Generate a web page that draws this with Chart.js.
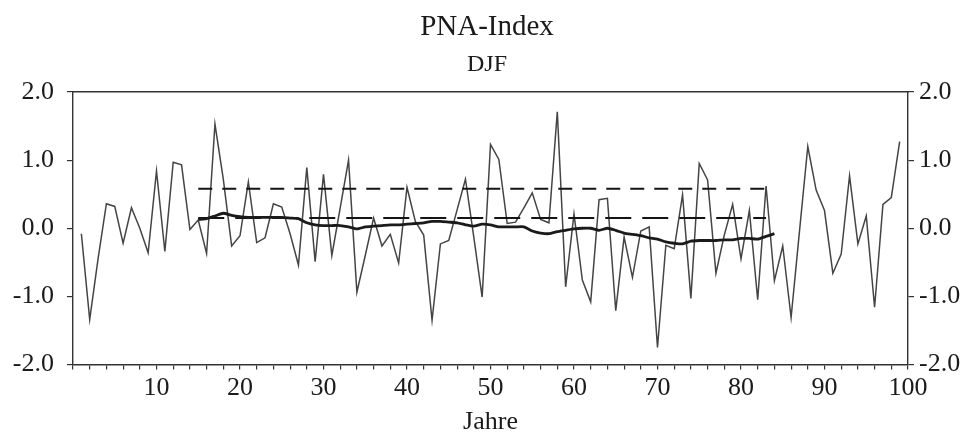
<!DOCTYPE html>
<html>
<head>
<meta charset="utf-8">
<script src="https://cdn.jsdelivr.net/npm/chart.js@4/dist/chart.umd.min.js"></script>
<style>
  html, body { margin: 0; padding: 0; background: #ffffff; }
  #wrap { width: 974px; height: 435px; }
</style>
</head>
<body>
<div id="wrap"><canvas id="pna" width="974" height="435"></canvas></div>
<script>
// Jahre 1..99 und PNA-Index (DJF)
const jahre = [];
for (let j = 1; j <= 99; j++) jahre.push(j);
const pnaWerte = [
  -0.08, -1.34, -0.45, 0.36, 0.32, -0.22, 0.30, 0.00, -0.36, 0.84,
  -0.34, 0.97, 0.93, -0.02, 0.12, -0.37, 1.53, 0.72, -0.26, -0.11,
  0.68, -0.21, -0.14, 0.36, 0.31, -0.08, -0.54, 0.89, -0.49, 0.79,
  -0.40, 0.30, 1.00, -0.94, -0.40, 0.15, -0.26, -0.09, -0.51, 0.60,
  0.10, -0.10, -1.35, -0.23, -0.18, 0.27, 0.72, -0.13, -1.01, 1.23,
  1.01, 0.07, 0.09, 0.30, 0.52, 0.13, 0.08, 1.71, -0.86, 0.21,
  -0.76, -1.08, 0.42, 0.44, -1.21, -0.13, -0.72, -0.04, 0.02, -1.75,
  -0.25, -0.30, 0.49, -1.03, 0.95, 0.71, -0.66, -0.10, 0.35, -0.45,
  0.26, -1.05, 0.62, -0.77, -0.26, -1.31, -0.05, 1.20, 0.56, 0.26,
  -0.66, -0.38, 0.77, -0.23, 0.18, -1.16, 0.35, 0.45, 1.27
];

// gleitendes Mittel (dicke Linie), Jahre 15..84
const mittelStart = 15;
const mittelWerte = [
  0.13, 0.14, 0.18, 0.22, 0.19, 0.17, 0.16, 0.16, 0.16, 0.16,
  0.16, 0.15, 0.14, 0.08, 0.05, 0.04, 0.04, 0.04, 0.02, -0.01,
  0.02, 0.03, 0.04, 0.05, 0.05, 0.06, 0.07, 0.08, 0.10, 0.10,
  0.09, 0.08, 0.05, 0.03, 0.06, 0.05, 0.02, 0.02, 0.02, 0.02,
  -0.04, -0.07, -0.08, -0.05, -0.03, -0.01, 0.00, 0.00, -0.03, 0.00,
  -0.03, -0.07, -0.09, -0.11, -0.14, -0.16, -0.20, -0.22, -0.23, -0.19,
  -0.18, -0.18, -0.18, -0.17, -0.17, -0.15, -0.15, -0.16, -0.12, -0.08
];

// gestrichelte Niveaus
const niveauJahre = [15, 83];
const niveauOben = [0.58, 0.58];
const niveauUnten = [0.15, 0.15];

const yTicks = [-2, -1, 0, 1, 2];

const serif = "'Liberation Serif', 'DejaVu Serif', serif";
const achsenFarbe = '#333333';

const punkte = (xs, ys) => xs.map((x, i) => ({ x: x, y: ys[i] }));
const mittelPunkte = mittelWerte.map((v, i) => ({ x: mittelStart + i, y: v }));

const yAchse = (pos) => ({
  type: 'linear',
  position: pos,
  min: -2,
  max: 2,
  afterFit: (s) => { s.width = pos === 'left' ? 73 : 66; },
  border: { display: true, color: achsenFarbe, width: 1.4 },
  grid: { drawOnChartArea: false, drawTicks: true, tickLength: 6, color: achsenFarbe, lineWidth: 1.2 },
  ticks: {
    stepSize: 0.5,
    padding: pos === 'left' ? 13 : 5,
    color: '#1a1a1a',
    font: { family: serif, size: 26 },
    callback: (v) => yTicks.includes(v) ? v.toFixed(1) : ''
  }
});

const ctx = document.getElementById('pna').getContext('2d');
new Chart(ctx, {
  type: 'line',
  data: {
    datasets: [
      {
        label: 'PNA',
        data: punkte(jahre, pnaWerte),
        borderColor: '#444444',
        borderWidth: 1.5,
        pointRadius: 0,
        tension: 0,
        order: 4
      },
      {
        label: 'oben',
        data: punkte(niveauJahre, niveauOben),
        borderColor: '#141414',
        borderWidth: 2,
        borderDash: [14, 10],
        pointRadius: 0,
        order: 3
      },
      {
        label: 'unten',
        data: punkte(niveauJahre, niveauUnten),
        borderColor: '#141414',
        borderWidth: 2,
        borderDash: [26, 11],
        pointRadius: 0,
        order: 2
      },
      {
        label: 'Mittel',
        data: mittelPunkte,
        borderColor: '#1a1a1a',
        borderWidth: 2.8,
        pointRadius: 0,
        tension: 0.2,
        order: 1
      }
    ]
  },
  options: {
    responsive: false,
    animation: false,
    devicePixelRatio: 1,
    layout: { padding: 0 },
    scales: {
      x: {
        type: 'linear',
        position: 'bottom',
        min: 0,
        max: 100,
        afterFit: (s) => { s.height = 70.5; },
        border: { display: true, color: achsenFarbe, width: 1.4 },
        grid: { drawOnChartArea: false, drawTicks: true, tickLength: 5, color: achsenFarbe, lineWidth: 1.2 },
        ticks: {
          stepSize: 2,
          autoSkip: false,
          maxRotation: 0,
          padding: 3,
          color: '#1a1a1a',
          font: { family: serif, size: 26 },
          callback: (v) => (v > 0 && v % 10 === 0) ? String(v) : ''
        },
        title: {
          display: true,
          text: 'Jahre',
          color: '#1a1a1a',
          font: { family: serif, size: 26, lineHeight: 1.0 },
          padding: { top: 0, bottom: 0 }
        }
      },
      xOben: {
        type: 'linear',
        position: 'top',
        min: 0,
        max: 100,
        afterFit: (s) => { s.height = 13.8; },
        border: { display: true, color: achsenFarbe, width: 1.4 },
        grid: { drawOnChartArea: false, drawTicks: false },
        ticks: { display: false }
      },
      y: yAchse('left'),
      yRechts: yAchse('right')
    },
    plugins: {
      legend: { display: false },
      tooltip: { enabled: false },
      title: {
        display: true,
        text: 'PNA-Index',
        color: '#1a1a1a',
        font: { family: serif, size: 29, weight: 'normal', lineHeight: 1.2 },
        padding: { top: 10, bottom: 7 }
      },
      subtitle: {
        display: true,
        text: 'DJF',
        color: '#1a1a1a',
        font: { family: serif, size: 24, weight: 'normal', lineHeight: 1.1 },
        padding: { top: 0, bottom: 0 }
      }
    }
  }
});
</script>
</body>
</html>
